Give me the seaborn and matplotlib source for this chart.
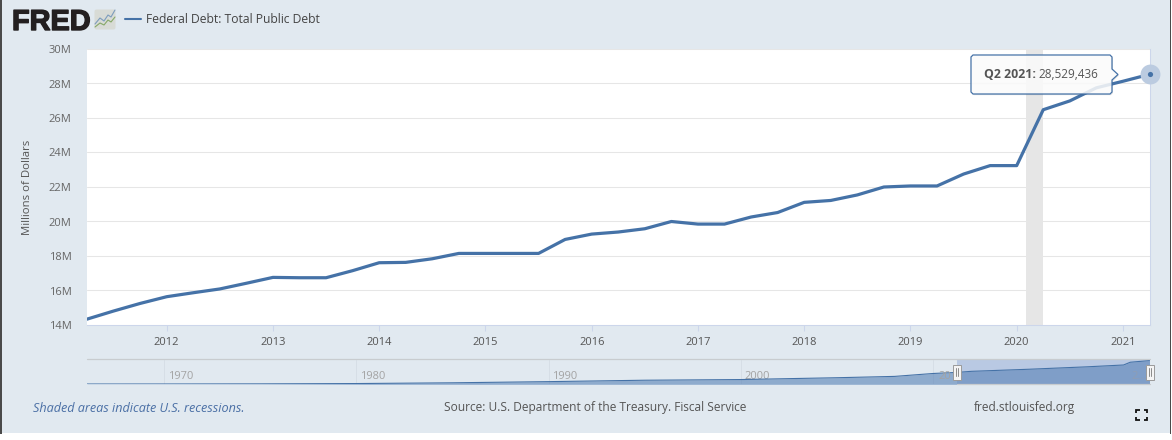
import matplotlib
matplotlib.use("Agg")
import matplotlib.pyplot as plt
import matplotlib.patheffects as pe
from matplotlib.patches import Rectangle, Polygon, FancyBboxPatch
import numpy as np
import pandas as pd
import seaborn as sns

# Quarterly total public debt, in millions of dollars (axis unit 1M = one million of those)
quarters = [2011.25, 2011.5, 2011.75,
            2012.0, 2012.25, 2012.5, 2012.75,
            2013.0, 2013.25, 2013.5, 2013.75,
            2014.0, 2014.25, 2014.5, 2014.75,
            2015.0, 2015.25, 2015.5, 2015.75,
            2016.0, 2016.25, 2016.5, 2016.75,
            2017.0, 2017.25, 2017.5, 2017.75,
            2018.0, 2018.25, 2018.5, 2018.75,
            2019.0, 2019.25, 2019.5, 2019.75,
            2020.0, 2020.25, 2020.5, 2020.75,
            2021.0, 2021.25]
debt = [14.34, 14.81, 15.25,
        15.64, 15.87, 16.09, 16.42,
        16.76, 16.74, 16.74, 17.15,
        17.61, 17.63, 17.84, 18.15,
        18.15, 18.15, 18.15, 18.96,
        19.27, 19.39, 19.58, 20.00,
        19.85, 19.85, 20.26, 20.52,
        21.11, 21.22, 21.54, 22.00,
        22.06, 22.06, 22.75, 23.24,
        23.24, 26.48, 26.99, 27.75,
        28.13, 28.529436]

# Long-run history for the range navigator
history_years = [1966, 1970, 1975, 1980, 1985, 1990, 1995, 2000, 2005, 2008, 2010,
                 2011.25, 2012, 2015, 2018, 2019.9, 2020.25, 2021.25]
history_debt = [0.32, 0.37, 0.53, 0.90, 1.80, 3.20, 4.90, 5.70, 7.90, 9.50, 13.0,
                14.3, 15.6, 18.1, 21.0, 23.2, 26.5, 28.53]

recession = (2020.085, 2020.25)
y_ticks = [14, 16, 18, 20, 22, 24, 26, 28, 30]
x_ticks = list(range(2012, 2022))
nav_ticks = [1970, 1980, 1990, 2000]
selected_start = 2011.25

BG = "#E1E9F0"
LINE = "#4572A7"
W, H = 1172, 440


def box(x0, y0, x1, y1):
    """Axes rectangle from pixel bounds measured from the top left."""
    return [x0 / W, 1 - y1 / H, (x1 - x0) / W, (y1 - y0) / H]


sns.set_theme(style="white")
plt.rcParams["font.family"] = ["Open Sans", "DejaVu Sans"]

fig = plt.figure(figsize=(W / 100, H / 100), dpi=100, facecolor="white")

# Pixel-space layer beneath the charts
under = fig.add_axes([0, 0, 1, 1], zorder=0)
under.set_xlim(0, W)
under.set_ylim(H, 0)
under.axis("off")
under.add_patch(Rectangle((0, 0), 1171, 433.5, fc=BG, ec="none"))
under.add_patch(Rectangle((0, 0), 1.7, 434, fc="#4a4a4a", ec="none"))
under.add_patch(Rectangle((1169.6, 0), 1.4, 434, fc="#4a4a4a", ec="none"))

# Main chart
ax = fig.add_axes(box(87, 49, 1149.5, 325), zorder=1)
ax.set_facecolor("white")
ax.axvspan(*recession, color="#E6E6E6", lw=0, zorder=0.5)
sns.lineplot(data=pd.DataFrame({"q": quarters, "d": debt}), x="q", y="d", ax=ax,
             color=LINE, lw=2.3, zorder=3, solid_joinstyle="round")
ax.set_xlim(2011.25, 2021.25)
ax.set_ylim(14, 30)
ax.set_yticks(y_ticks)
ax.set_yticklabels([f"{v}M" for v in y_ticks], fontsize=8, color="#666666")
ax.set_xticks(x_ticks)
ax.set_xticklabels([str(v) for v in x_ticks], fontsize=8, color="#555555")
ax.yaxis.grid(True, color="#E6E6E6", lw=0.75, zorder=0)
ax.xaxis.grid(False)
ax.tick_params(axis="y", length=0, pad=11)
ax.tick_params(axis="x", length=4.3, width=0.75, color="#CCD6EB", pad=4, bottom=True)
ax.set_xlabel("")
ax.set_ylabel("Millions of Dollars", fontsize=8.2, color="#555555")
ax.yaxis.set_label_coords(-0.0505, 0.5)
for name, spine in ax.spines.items():
    spine.set_visible(name in ("bottom", "right"))
    spine.set_color("#CCD6EB")
    spine.set_linewidth(0.75)

# Hover marker on the latest observation
ax.scatter([quarters[-1]], [debt[-1]], s=205, color="#BBCBE0", lw=0, zorder=4, clip_on=False)
ax.scatter([quarters[-1]], [debt[-1]], s=14, color=LINE, lw=0, zorder=5, clip_on=False)

# Range navigator
nav = fig.add_axes(box(87, 360, 1149.5, 384.3), zorder=1)
nav.patch.set_alpha(0)
nav.set_xlim(1966, 2021.25)
nav.set_ylim(0, 29.2)
nav.axvspan(selected_start, 2021.25, color="#B9C9E3", lw=0, zorder=0.5)
nav.fill_between(history_years, history_debt, color="#5C85B8", alpha=0.62, lw=0, zorder=1)
sns.lineplot(data=pd.DataFrame({"y": history_years, "d": history_debt}), x="y", y="d",
             ax=nav, color=LINE, lw=0.8, zorder=2)
nav.set_xlabel("")
nav.set_ylabel("")
nav.set_yticks([])
nav.set_xticks([])
for spine in nav.spines.values():
    spine.set_visible(False)
for year in nav_ticks + [2010]:
    nav.axvline(year, color="#D6DEE6", lw=0.7, zorder=0.2)
for year in nav_ticks:
    nav.text(year + 0.2, 0.34, str(year), transform=nav.get_xaxis_transform(),
             fontsize=8, color="#A3A3A3", va="center", ha="left", zorder=0.8)
nav.text(2010 + 0.25, 0.34, "20", transform=nav.get_xaxis_transform(),
         fontsize=8, color="#A3A3A3", va="center", ha="left", zorder=3)
nav.text(2020 + 0.3, 0.34, "2...", transform=nav.get_xaxis_transform(),
         fontsize=8, color="#8E9DB5", va="center", ha="left", zorder=3)

# Pixel-space layer above the charts
top = fig.add_axes([0, 0, 1, 1], zorder=5)
top.set_xlim(0, W)
top.set_ylim(H, 0)
top.axis("off")
top.patch.set_alpha(0)

# Navigator frame and handles
top.plot([87, 1149.5], [359.5, 359.5], color="#C8CCCF", lw=0.9)
top.plot([957, 1149.5], [384.5, 384.5], color="#C8CCCF", lw=0.9)
for hx in (957, 1149.5):
    top.add_patch(Rectangle((hx - 4, 365), 8, 15, fc="#F4F4F4", ec="#9A9A9A", lw=0.7))
    top.plot([hx - 1, hx - 1], [368.5, 376.5], color="#8A8A8A", lw=0.7)
    top.plot([hx + 1, hx + 1], [368.5, 376.5], color="#8A8A8A", lw=0.7)

# Logo: wordmark and small chart badge
top.text(12, 30, "FRED", fontsize=20.8, family="Liberation Sans", weight="bold",
         color="#231F20", va="baseline", ha="left",
         path_effects=[pe.withStroke(linewidth=1.0, foreground="#231F20")])
top.add_patch(FancyBboxPatch((95, 10), 20, 19, boxstyle="round,pad=0.5,rounding_size=2",
                             fc="#D8DBD6", ec="none"))
top.plot([95, 100, 104, 108, 111, 115], [24, 18, 21, 15, 17, 10], color="#7C9CBD", lw=0.8)
top.plot([95, 100, 104, 108, 111, 115], [27, 23, 25, 20, 22, 17], color="#86A868", lw=0.8)

# Legend entry
top.plot([125, 141], [19.5, 19.5], color=LINE, lw=1.5)
top.text(146, 19.5, "Federal Debt: Total Public Debt", fontsize=8.7, color="#444444",
         va="center", ha="left")

# Tooltip with a soft drop shadow
outline = [(973, 55), (1110, 55), (1112, 57), (1112, 69), (1118, 74.5), (1112, 80),
           (1112, 92), (1110, 94), (973, 94), (971, 92), (971, 57)]
top.add_patch(Polygon([(x + 1, y + 1.2) for x, y in outline], closed=True,
                      fc=(0, 0, 0, 0.10), ec="none"))
top.add_patch(Polygon(outline, closed=True, fc=(1, 1, 1, 0.85), ec=LINE, lw=0.9))
top.text(984, 74.5, "Q2 2021:", fontsize=8.9, weight="bold", color="#555555", va="center", ha="left")
top.text(1038, 74.5, "28,529,436", fontsize=8.5, color="#555555", va="center", ha="left")

# Footer
top.text(33, 408, "Shaded areas indicate U.S. recessions.", fontsize=9.1, style="italic",
         color="#4A6FA5", va="center", ha="left")
top.text(444, 408, "Source: U.S. Department of the Treasury. Fiscal Service", fontsize=8.6,
         color="#555555", va="center", ha="left")
top.text(974, 408, "fred.stlouisfed.org", fontsize=8.6, color="#555555", va="center", ha="left")

# Fullscreen glyph
for cx, cy, dx, dy in [(1136, 410, 1, 1), (1147, 410, -1, 1), (1136, 420, 1, -1), (1147, 420, -1, -1)]:
    top.plot([cx + 3.5 * dx, cx, cx], [cy, cy, cy + 3 * dy], color="#111111", lw=1.3,
             solid_joinstyle="miter", solid_capstyle="butt")

fig.savefig("out.png", dpi=100)
